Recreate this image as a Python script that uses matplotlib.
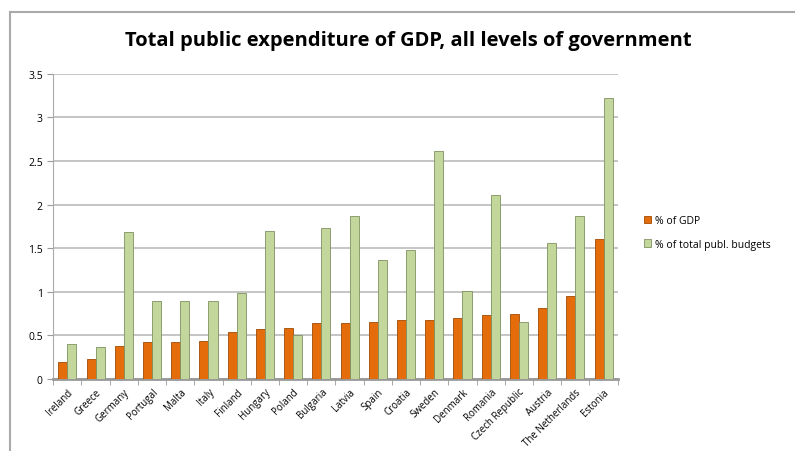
import matplotlib.pyplot as plt
import numpy as np
from matplotlib.lines import Line2D

plt.rcParams['font.family'] = ['Open Sans', 'DejaVu Sans']

countries = ['Ireland', 'Greece', 'Germany', 'Portugal', 'Malta', 'Italy', 'Finland',
             'Hungary', 'Poland', 'Bulgaria', 'Latvia', 'Spain', 'Croatia', 'Sweden',
             'Denmark', 'Romania', 'Czech Republic', 'Austria', 'The Netherlands', 'Estonia']
gdp = [0.20, 0.23, 0.38, 0.42, 0.43, 0.44, 0.54, 0.57, 0.59, 0.64,
       0.64, 0.65, 0.68, 0.68, 0.70, 0.73, 0.75, 0.82, 0.95, 1.61]
budgets = [0.40, 0.37, 1.68, 0.90, 0.89, 0.90, 0.99, 1.70, 0.50, 1.73,
           1.87, 1.36, 1.48, 2.61, 1.01, 2.11, 0.66, 1.56, 1.87, 3.22]

fig = plt.figure(figsize=(7.95, 4.52), dpi=100)
ax = fig.add_axes([0.067, 0.159, 0.71, 0.676])

x = np.arange(len(countries))
w = 0.32
ax.bar(x - w/2, gdp, w, color='#e46c0a', edgecolor='#a04a05', linewidth=0.6,
       label='% of GDP', zorder=3)
ax.bar(x + w/2, budgets, w, color='#c3d69b', edgecolor='#7f9160', linewidth=0.6,
       label='% of total publ. budgets', zorder=3)

ax.set_xlim(-0.5, len(countries) - 0.5)
ax.set_ylim(0, 3.5)
ax.set_yticks(np.arange(0, 3.51, 0.5))
ax.set_yticklabels(['0', '0.5', '1', '1.5', '2', '2.5', '3', '3.5'], fontsize=7.5)
ax.set_xticks(x)
ax.set_xticks(np.arange(-0.5, len(countries), 1), minor=True)
ax.set_xticklabels(countries, rotation=45, ha='right', rotation_mode='anchor', fontsize=7)
ax.tick_params(axis='x', which='major', length=0, pad=5)
ax.tick_params(axis='x', which='minor', length=4, color='#999999')
ax.tick_params(axis='y', length=4, color='#999999')
ax.grid(axis='y', color='#bbbbbb', linewidth=1.2, zorder=0)
for s in ['top', 'right']:
    ax.spines[s].set_visible(False)
ax.spines['left'].set_color('#aaaaaa')
ax.spines['bottom'].set_color('#999999')
ax.spines['bottom'].set_linewidth(2)

fig.text(0.513, 0.91, 'Total public expenditure of GDP, all levels of government',
         ha='center', va='center', fontsize=14.5, fontweight='bold')

ax.legend(loc='center left', bbox_to_anchor=(1.03, 0.48), frameon=False,
          fontsize=7.5, handlelength=0.7, handleheight=0.7, handletextpad=0.4,
          labelspacing=1.2)

# chart frame (left and top edges)
fig.add_artist(Line2D([0.013, 0.013], [0.0, 0.972], color='#aaaaaa', lw=1.5))
fig.add_artist(Line2D([0.013, 1.0], [0.972, 0.972], color='#aaaaaa', lw=1.5))

fig.savefig('out.png', dpi=100)
